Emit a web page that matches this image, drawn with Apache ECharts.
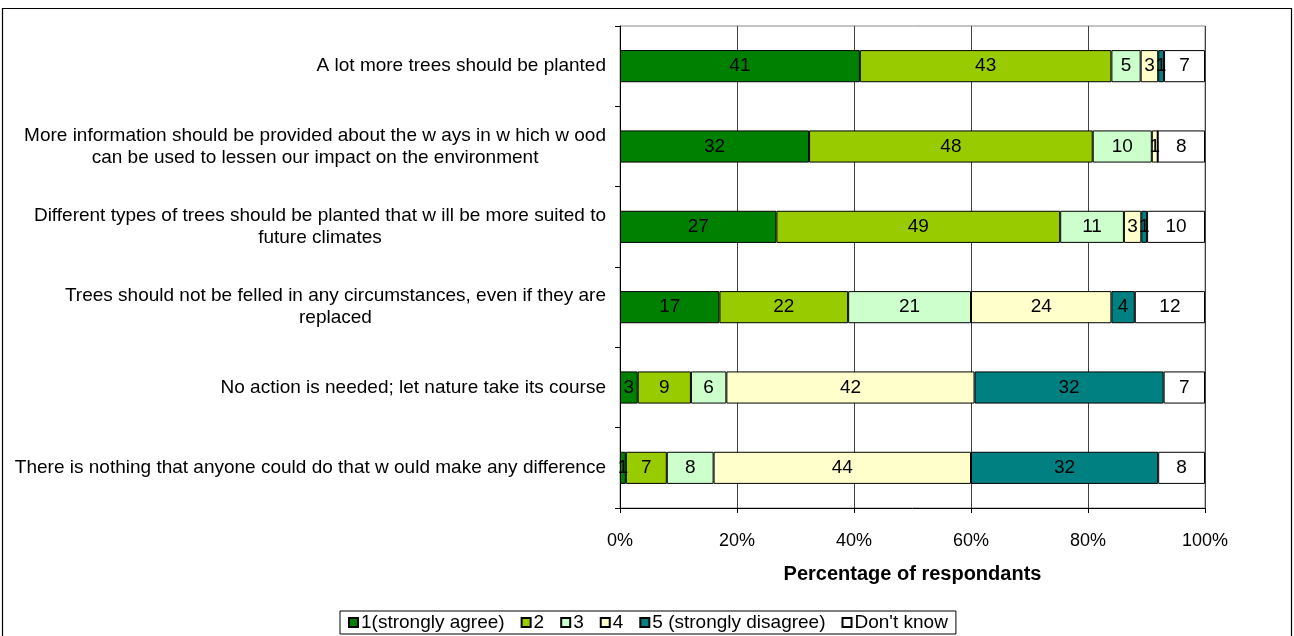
<!DOCTYPE html>
<html>
<head>
<meta charset="utf-8">
<title>Attitudes to trees and woodland</title>
<script src="https://cdn.jsdelivr.net/npm/echarts@6/dist/echarts.min.js"></script>
<style>
  html, body { margin: 0; padding: 0; background: #fff; }
  #chart { width: 1294px; height: 636px; }
</style>
</head>
<body>
<div id="chart"></div>
<script>
// Statements, top to bottom
const categories = [
  'A lot more trees should be planted',
  'More information should be provided about the w ays in w hich w ood\ncan be used to lessen our impact on the environment',
  'Different types of trees should be planted that w ill be more suited to\nfuture climates',
  'Trees should not be felled in any circumstances, even if they are\nreplaced',
  'No action is needed; let nature take its course',
  'There is nothing that anyone could do that w ould make any difference'
];

// Response groups (legend order)
const responseNames = ['1(strongly agree)', '2', '3', '4', '5 (strongly disagree)', "Don't know"];

// Percentage of respondents per statement
const stronglyAgree    = [41, 32, 27, 17, 3, 1];
const agree            = [43, 48, 49, 22, 9, 7];
const neutral          = [5, 10, 11, 21, 6, 8];
const disagree         = [3, 1, 3, 24, 42, 44];
const stronglyDisagree = [1, 0, 1, 4, 32, 32];
const dontKnow         = [7, 8, 10, 12, 7, 8];

const xTicks = ['0%', '20%', '40%', '60%', '80%', '100%'];

const responses = [stronglyAgree, agree, neutral, disagree, stronglyDisagree, dontKnow];
const colors = ['#008000', '#99CC00', '#CCFFCC', '#FFFFCC', '#008080', '#FFFFFF'];

// 100% stacked: each bar is drawn as its share of the row total
const rowTotals = categories.map((_, i) => responses.reduce((s, arr) => s + arr[i], 0));

const FONT = '"Liberation Sans", Arial, sans-serif';

const series = responses.map((arr, si) => ({
  name: responseNames[si],
  type: 'bar',
  stack: 'total',
  barWidth: '40%',
  data: arr.map((v, i) => v / rowTotals[i] * 100),
  itemStyle: { color: colors[si], borderColor: '#000', borderWidth: 1 },
  label: {
    show: true,
    position: 'inside',
    color: '#000',
    fontFamily: FONT,
    fontSize: 19,
    formatter: p => (arr[p.dataIndex] ? String(arr[p.dataIndex]) : '')
  },
  emphasis: { disabled: true }
}));

const chart = echarts.init(document.getElementById('chart'), null, { renderer: 'canvas' });

chart.setOption({
  animation: false,
  textStyle: { fontFamily: FONT },
  graphic: [{
    type: 'rect',
    z: -10,
    shape: { x: 2.5, y: 8.5, width: 1289, height: 660 },
    style: { fill: 'none', stroke: '#000', lineWidth: 1.2 }
  }],
  grid: {
    left: 620, right: 89, top: 26, bottom: 128,
    show: true, borderColor: '#8a8a8a', borderWidth: 1, backgroundColor: 'transparent'
  },
  legend: {
    left: 340,
    top: 611,
    padding: [2, 8, 2, 8],
    borderColor: '#000',
    borderWidth: 1,
    itemWidth: 9,
    itemHeight: 9,
    itemGap: 16,
    icon: 'rect',
    data: responseNames,
    textStyle: { fontFamily: FONT, fontSize: 19, color: '#000', padding: [0, 0, 0, -2] }
  },
  xAxis: {
    type: 'value',
    min: 0,
    max: 100,
    interval: 20,
    name: 'Percentage of respondants',
    nameLocation: 'middle',
    nameGap: 56,
    nameTextStyle: { fontFamily: FONT, fontSize: 20, fontWeight: 'bold', color: '#000' },
    axisLine: { show: true, lineStyle: { color: '#000', width: 1 } },
    axisTick: { show: true, length: 5, lineStyle: { color: '#000' } },
    axisLabel: {
      margin: 24,
      fontFamily: FONT,
      fontSize: 18,
      color: '#000',
      formatter: v => xTicks[Math.round(v / 20)]
    },
    splitLine: { show: true, lineStyle: { color: '#404040', width: 1 } }
  },
  yAxis: {
    type: 'category',
    inverse: true,
    data: categories,
    axisLine: { show: true, lineStyle: { color: '#000', width: 1 } },
    axisTick: { show: true, length: 5, lineStyle: { color: '#000' } },
    axisLabel: {
      margin: 14,
      align: 'right',
      color: '#000',
      fontFamily: FONT,
      fontSize: 19,
      lineHeight: 22,
      formatter: v => v.split('\n').map(l => '{c|' + l + '}').join('\n'),
      rich: {
        c: { align: 'center', fontFamily: FONT, fontSize: 19, lineHeight: 22, color: '#000' }
      }
    },
    splitLine: { show: false }
  },
  series: series
});
</script>
</body>
</html>
